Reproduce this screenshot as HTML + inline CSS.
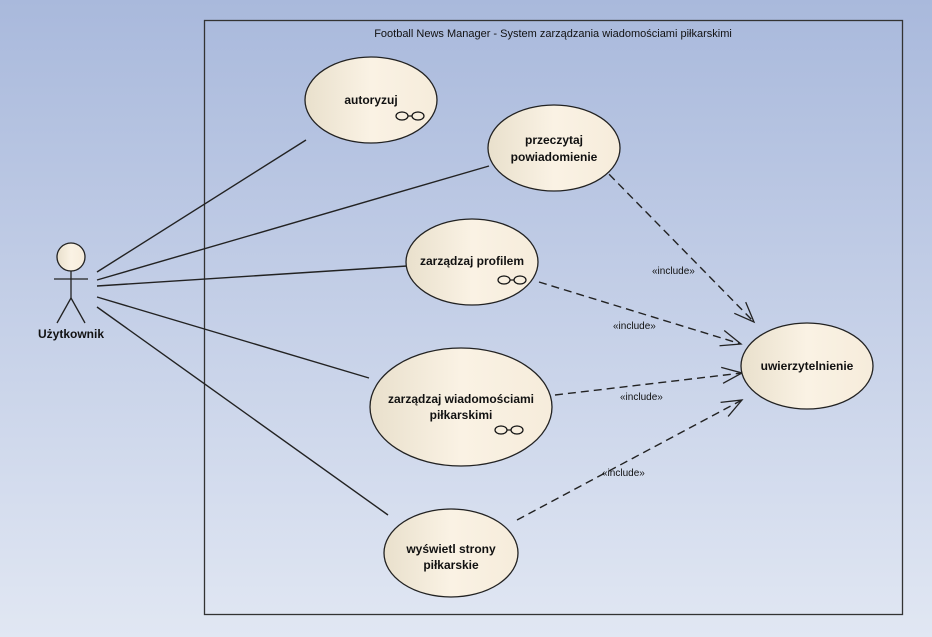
<!DOCTYPE html>
<html><head><meta charset="utf-8"><style>
html,body{margin:0;padding:0;width:932px;height:637px;overflow:hidden}
body{background:linear-gradient(#a9b9dc,#e1e7f3)}
svg{position:absolute;left:0;top:0}
text{font-family:"Liberation Sans",sans-serif;fill:#111}
.b{font-weight:bold;font-size:12px}
.s{font-size:10px}
</style></head><body>
<svg width="932" height="637" viewBox="0 0 932 637">
<defs>
<linearGradient id="g" x1="0" x2="1" y1="0" y2="0">
<stop offset="0" stop-color="#e9e0cc"/><stop offset="0.5" stop-color="#faf2e4"/><stop offset="1" stop-color="#f6ecdb"/>
</linearGradient>
<marker id="ar" markerUnits="userSpaceOnUse" viewBox="-22 -12 24 24" refX="0" refY="0" markerWidth="24" markerHeight="24" orient="auto">
<path d="M-20,-8 L0,0 L-20,8" fill="none" stroke="#222" stroke-width="1.3" stroke-dasharray="none"/>
</marker>
<g id="lnk"><ellipse cx="-8" cy="0" rx="6" ry="4" fill="none" stroke="#111" stroke-width="1.2"/><ellipse cx="8" cy="0" rx="6" ry="4" fill="none" stroke="#111" stroke-width="1.2"/><line x1="-2" y1="0" x2="2" y2="0" stroke="#111" stroke-width="1.2"/></g>
</defs>
<rect x="204.5" y="20.5" width="698" height="594" fill="none" stroke="#333" stroke-width="1.3"/>
<text x="553" y="37" text-anchor="middle" font-size="11">Football News Manager - System zarządzania wiadomościami piłkarskimi</text>

<g stroke="#222" stroke-width="1.4">
<line x1="97" y1="272" x2="306" y2="140"/>
<line x1="97" y1="280" x2="489" y2="166"/>
<line x1="97" y1="286" x2="407" y2="266"/>
<line x1="97" y1="297" x2="369" y2="378"/>
<line x1="97" y1="307" x2="388" y2="515"/>
</g>
<g stroke="#222" stroke-width="1.4" stroke-dasharray="8,5" fill="none">
<line x1="600" y1="165" x2="754" y2="322" marker-end="url(#ar)"/>
<line x1="539" y1="282" x2="741" y2="344" marker-end="url(#ar)"/>
<line x1="555" y1="395" x2="742" y2="373" marker-end="url(#ar)"/>
<line x1="517" y1="520" x2="742" y2="400" marker-end="url(#ar)"/>
</g>
<g class="s">
<text x="652" y="274">«include»</text>
<text x="613" y="329">«include»</text>
<text x="620" y="400">«include»</text>
<text x="602" y="476">«include»</text>
</g>

<g stroke="#222" stroke-width="1.3" fill="url(#g)">
<ellipse cx="371" cy="100" rx="66" ry="43"/>
<ellipse cx="554" cy="148" rx="66" ry="43"/>
<ellipse cx="472" cy="262" rx="66" ry="43"/>
<ellipse cx="461" cy="407" rx="91" ry="59"/>
<ellipse cx="451" cy="553" rx="67" ry="44"/>
<ellipse cx="807" cy="366" rx="66" ry="43"/>
</g>
<g class="b" text-anchor="middle">
<text x="371" y="104">autoryzuj</text>
<text x="554" y="144">przeczytaj</text>
<text x="554" y="161">powiadomienie</text>
<text x="472" y="265">zarządzaj profilem</text>
<text x="461" y="403">zarządzaj wiadomościami</text>
<text x="461" y="419">piłkarskimi</text>
<text x="451" y="553">wyświetl strony</text>
<text x="451" y="569">piłkarskie</text>
<text x="807" y="370">uwierzytelnienie</text>
</g>
<use href="#lnk" x="410" y="116"/>
<use href="#lnk" x="512" y="280"/>
<use href="#lnk" x="509" y="430"/>

<circle cx="71" cy="257" r="14" fill="url(#g)" stroke="#222" stroke-width="1.3"/>
<g stroke="#222" stroke-width="1.3">
<line x1="71" y1="271" x2="71" y2="298"/>
<line x1="54" y1="279" x2="88" y2="279"/>
<line x1="71" y1="298" x2="57" y2="323"/>
<line x1="71" y1="298" x2="85" y2="323"/>
</g>
<text x="71" y="338" class="b" text-anchor="middle">Użytkownik</text>
</svg>
</body></html>
